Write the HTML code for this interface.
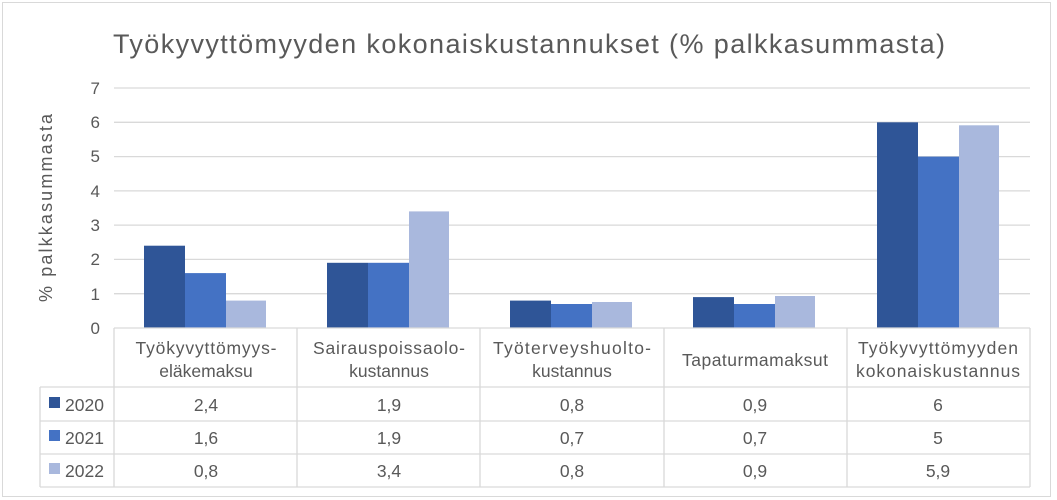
<!DOCTYPE html>
<html><head><meta charset="utf-8"><style>
html,body{margin:0;padding:0;background:#fff;}
svg{display:block;font-family:"Liberation Sans",Arial,sans-serif;}
</style></head><body>
<svg width="1057" height="500" viewBox="0 0 1057 500">
<rect x="0" y="0" width="1057" height="500" fill="#fff"/>
<rect x="2.5" y="2.5" width="1048" height="494" fill="none" stroke="#d9d9d9" stroke-width="1"/>
<text x="113" y="53" font-size="27" fill="#595959" textLength="832" lengthAdjust="spacing">Työkyvyttömyyden kokonaiskustannukset (% palkkasummasta)</text>
<g stroke="#d9d9d9" stroke-width="1.3">
<line x1="114" y1="88" x2="1030" y2="88"/>
<line x1="114" y1="122.3" x2="1030" y2="122.3"/>
<line x1="114" y1="156.6" x2="1030" y2="156.6"/>
<line x1="114" y1="190.9" x2="1030" y2="190.9"/>
<line x1="114" y1="225.1" x2="1030" y2="225.1"/>
<line x1="114" y1="259.4" x2="1030" y2="259.4"/>
<line x1="114" y1="293.7" x2="1030" y2="293.7"/>
</g>
<g font-size="17" fill="#595959" text-anchor="end">
<text x="100" y="94">7</text><text x="100" y="128">6</text><text x="100" y="162">5</text>
<text x="100" y="197">4</text><text x="100" y="231">3</text><text x="100" y="265">2</text>
<text x="100" y="300">1</text><text x="100" y="334">0</text>
</g>
<text transform="translate(52,208) rotate(-90)" font-size="18" fill="#595959" text-anchor="middle" textLength="188" lengthAdjust="spacing">% palkkasummasta</text>
<g>
<rect x="144" y="245.7" width="41" height="82.3" fill="#2F5597"/>
<rect x="185" y="273.1" width="41" height="54.9" fill="#4472C4"/>
<rect x="226" y="300.6" width="40" height="27.4" fill="#A9B8DD"/>
<rect x="327" y="262.8" width="41" height="65.2" fill="#2F5597"/>
<rect x="368" y="262.8" width="41" height="65.2" fill="#4472C4"/>
<rect x="409" y="211.4" width="40" height="116.6" fill="#A9B8DD"/>
<rect x="510" y="300.6" width="41" height="27.4" fill="#2F5597"/>
<rect x="551" y="304" width="41" height="24" fill="#4472C4"/>
<rect x="592" y="302" width="40" height="26" fill="#A9B8DD"/>
<rect x="693" y="297.1" width="41" height="30.9" fill="#2F5597"/>
<rect x="734" y="304" width="41" height="24" fill="#4472C4"/>
<rect x="775" y="296" width="40" height="32" fill="#A9B8DD"/>
<rect x="877" y="122.3" width="41" height="205.7" fill="#2F5597"/>
<rect x="918" y="156.6" width="41" height="171.4" fill="#4472C4"/>
<rect x="959" y="125.3" width="40" height="202.7" fill="#A9B8DD"/>
</g>
<g stroke="#d9d9d9" stroke-width="1.3" fill="none">
<line x1="114" y1="328" x2="1030" y2="328"/>
<line x1="40" y1="387" x2="1030" y2="387"/>
<line x1="40" y1="421" x2="1030" y2="421"/>
<line x1="40" y1="454" x2="1030" y2="454"/>
<line x1="40" y1="487" x2="1030" y2="487"/>
<line x1="40" y1="387" x2="40" y2="487"/>
<line x1="114" y1="328" x2="114" y2="487"/>
<line x1="297" y1="328" x2="297" y2="487"/>
<line x1="480" y1="328" x2="480" y2="487"/>
<line x1="664" y1="328" x2="664" y2="487"/>
<line x1="847" y1="328" x2="847" y2="487"/>
<line x1="1030" y1="328" x2="1030" y2="487"/>
</g>
<g font-size="17.5" fill="#595959" text-anchor="middle">
<text x="206" y="354" textLength="141">Työkyvyttömyys-</text><text x="206" y="377">eläkemaksu</text>
<text x="389" y="354" textLength="152">Sairauspoissaolo-</text><text x="389" y="377">kustannus</text>
<text x="572" y="354" textLength="158">Työterveyshuolto-</text><text x="572" y="377">kustannus</text>
<text x="755" y="366" textLength="146">Tapaturmamaksut</text>
<text x="938" y="354" textLength="160">Työkyvyttömyyden</text><text x="938" y="377" textLength="164">kokonaiskustannus</text>
<text x="206" y="411">2,4</text><text x="389" y="411">1,9</text><text x="572" y="411">0,8</text><text x="755" y="411">0,9</text><text x="938" y="411">6</text>
<text x="206" y="444">1,6</text><text x="389" y="444">1,9</text><text x="572" y="444">0,7</text><text x="755" y="444">0,7</text><text x="938" y="444">5</text>
<text x="206" y="477">0,8</text><text x="389" y="477">3,4</text><text x="572" y="477">0,8</text><text x="755" y="477">0,9</text><text x="938" y="477">5,9</text>
</g>
<rect x="49" y="397" width="11" height="11" fill="#2F5597"/>
<rect x="49" y="430" width="11" height="11" fill="#4472C4"/>
<rect x="49" y="463" width="11" height="11" fill="#A9B8DD"/>
<g font-size="17.5" fill="#595959">
<text x="65" y="411">2020</text><text x="65" y="444">2021</text><text x="65" y="477">2022</text>
</g>
</svg>
</body></html>
